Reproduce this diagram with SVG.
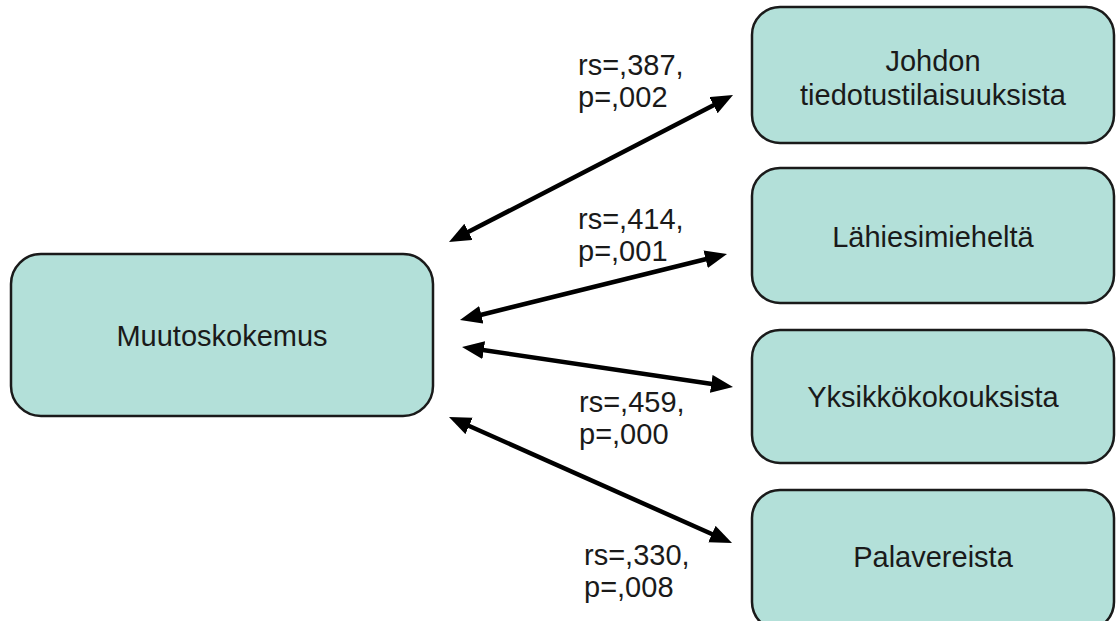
<svg xmlns="http://www.w3.org/2000/svg" width="1119" height="621" viewBox="0 0 1119 621">
  <style>
    .box { fill: #b3e0d9; stroke: #1a1a1a; stroke-width: 2.5; }
    .label { font-family: "Liberation Sans", Arial, sans-serif; font-size: 29px; fill: #1a1a1a; }
    .node-text { text-anchor: middle; }
    .link { stroke: #000; stroke-width: 4.5; fill: none; marker-start: url(#head); marker-end: url(#head); }
  </style>
  <defs>
    <marker id="head" markerUnits="userSpaceOnUse" markerWidth="24" markerHeight="20" refX="6" refY="9" orient="auto-start-reverse" viewBox="0 0 24 20">
      <path d="M0,0 L22,9 L0,18 z" fill="#000"/>
    </marker>
  </defs>

  <rect width="1119" height="621" fill="#fff"/>

  <!-- source node -->
  <g id="muutoskokemus">
    <rect class="box" x="11" y="254" width="422" height="162" rx="30" ry="30"/>
    <text class="label node-text" x="222" y="346">Muutoskokemus</text>
  </g>

  <!-- target nodes -->
  <g id="johdon">
    <rect class="box" x="752" y="7" width="362" height="136" rx="28" ry="28"/>
    <text class="label node-text" x="933" y="71">Johdon</text>
    <text class="label node-text" x="933" y="105">tiedotustilaisuuksista</text>
  </g>
  <g id="lahiesimieshelta">
    <rect class="box" x="752" y="168" width="362" height="135" rx="28" ry="28"/>
    <text class="label node-text" x="933" y="247">Lähiesimieheltä</text>
  </g>
  <g id="yksikkokokouksista">
    <rect class="box" x="752" y="330" width="362" height="133" rx="28" ry="28"/>
    <text class="label node-text" x="933" y="407">Yksikkökokouksista</text>
  </g>
  <g id="palavereista">
    <rect class="box" x="752" y="490" width="362" height="140" rx="28" ry="28"/>
    <text class="label node-text" x="933" y="567">Palavereista</text>
  </g>

  <!-- two-way connectors -->
  <g id="connectors">
    <line class="link" x1="463.2" y1="234.6" x2="718.8" y2="102.4"/>
    <line class="link" x1="475.5" y1="316.2" x2="711.5" y2="257.8"/>
    <line class="link" x1="477.8" y1="349.3" x2="717.2" y2="384.7"/>
    <line class="link" x1="463.6" y1="423.5" x2="717.4" y2="536.5"/>
  </g>

  <!-- correlation labels -->
  <g id="labels">
    <text class="label" x="578" y="75">rs=,387,</text>
    <text class="label" x="578" y="107">p=,002</text>
    <text class="label" x="578" y="229">rs=,414,</text>
    <text class="label" x="578" y="261">p=,001</text>
    <text class="label" x="579" y="412">rs=,459,</text>
    <text class="label" x="579" y="444">p=,000</text>
    <text class="label" x="584" y="565">rs=,330,</text>
    <text class="label" x="584" y="597">p=,008</text>
  </g>
</svg>
